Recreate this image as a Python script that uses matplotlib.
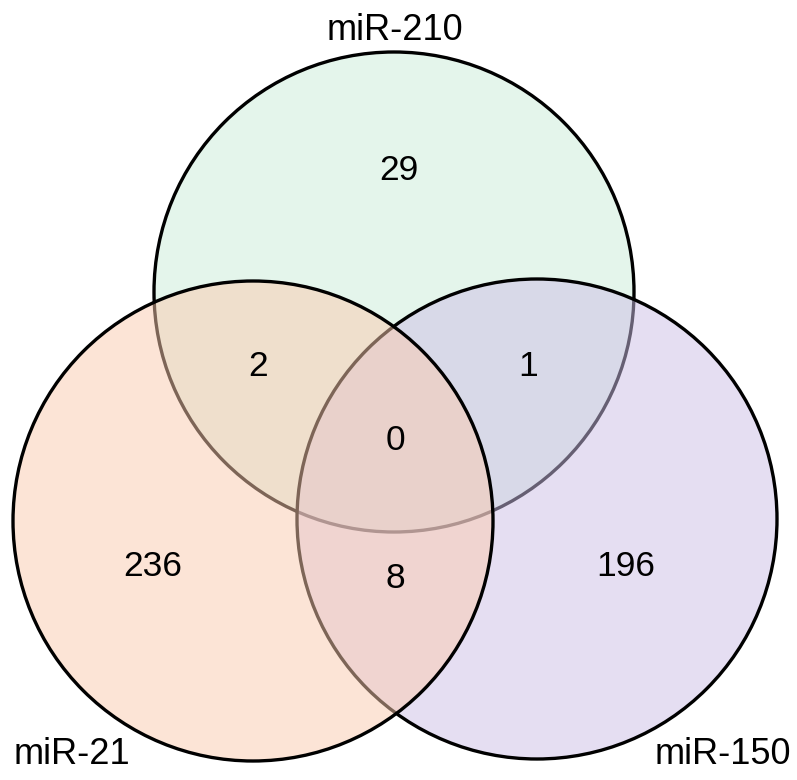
import matplotlib
matplotlib.use("Agg")
import matplotlib.pyplot as plt
from matplotlib.patches import Circle

# Mengen und Farben (Zeichenreihenfolge: oben, rechts, links)
set_names = ["miR-210", "miR-150", "miR-21"]
set_colors = ["#cbedd9", "#cdbfe7", "#fbcbaf"]
centers = [(394, 292), (537, 519), (253, 521)]
radius = 240

# Werte der einzelnen Bereiche
region_labels = ["29", "2", "1", "0", "236", "8", "196"]
region_pos = [(399, 171), (258, 367), (528, 367), (395, 441), (153, 566), (395, 578), (626, 566)]

# Beschriftung der Mengen
label_pos = [(395, 30), (723, 754), (72, 754)]

fig = plt.figure(figsize=(7.97, 7.80), dpi=100)
ax = fig.add_axes([0, 0, 1, 1])
ax.set_xlim(0, 797)
ax.set_ylim(780, 0)
ax.set_aspect("equal")
ax.axis("off")

for (cx, cy), col in zip(centers, set_colors):
    rgba = matplotlib.colors.to_rgba(col, 0.5)
    ax.add_patch(Circle((cx, cy), radius, facecolor=rgba, edgecolor="black", linewidth=2.4))

schrift = ["Liberation Sans", "DejaVu Sans"]
for txt, (x, y) in zip(region_labels, region_pos):
    ax.text(x, y, txt, ha="center", va="center", fontsize=25.5, family=schrift, color="black")

for name, (x, y) in zip(set_names, label_pos):
    ax.text(x, y, name, ha="center", va="center", fontsize=26, family=schrift, color="black")

fig.savefig("out.png", dpi=100)
